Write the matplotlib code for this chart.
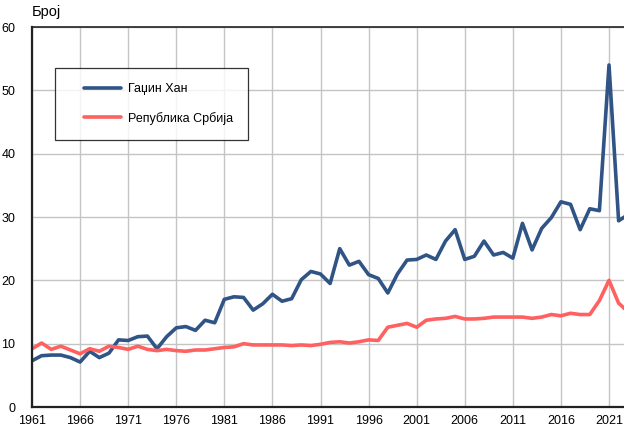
import matplotlib
matplotlib.use("Agg")
import matplotlib.pyplot as plt
from matplotlib.legend_handler import HandlerLine2D

years = list(range(1961, 2024))
gadzin_han = [7.3, 8.1, 8.2, 8.2, 7.8, 7.1, 8.8, 7.8, 8.5, 10.6,
              10.5, 11.1, 11.2, 9.2, 11.1, 12.5, 12.7, 12.1, 13.7, 13.3,
              17.0, 17.4, 17.3, 15.3, 16.3, 17.8, 16.7, 17.1, 20.1, 21.4,
              21.0, 19.5, 25.0, 22.4, 23.0, 20.9, 20.3, 18.0, 21.0, 23.2,
              23.3, 24.0, 23.3, 26.2, 28.0, 23.3, 23.8, 26.2, 24.0, 24.4,
              23.5, 29.0, 24.8, 28.2, 29.9, 32.4, 32.0, 28.0, 31.3, 31.0,
              54.0, 29.4, 30.4]
srbija = [9.2, 10.1, 9.1, 9.6, 9.0, 8.4, 9.2, 8.8, 9.6, 9.4,
          9.1, 9.6, 9.1, 8.9, 9.1, 8.9, 8.8, 9.0, 9.0, 9.2,
          9.4, 9.5, 10.0, 9.8, 9.8, 9.8, 9.8, 9.7, 9.8, 9.7,
          9.9, 10.2, 10.3, 10.1, 10.3, 10.6, 10.5, 12.6, 12.9, 13.2,
          12.6, 13.7, 13.9, 14.0, 14.3, 13.9, 13.9, 14.0, 14.2, 14.2,
          14.2, 14.2, 14.0, 14.2, 14.6, 14.4, 14.8, 14.6, 14.6, 16.8,
          20.0, 16.4, 15.0]
series_labels = ["Гаџин Хан", "Република Србија"]
x_ticks = list(range(1961, 2022, 5))
y_ticks = list(range(0, 61, 10))

plt.rcParams['font.family'] = ['Liberation Sans', 'DejaVu Sans']

W, H = 624, 430
fig = plt.figure(figsize=(W / 100, H / 100), dpi=100)
px_per_year = (609 - 32) / 60.0
x_end = 2024
ax_w = (x_end - 1961) * px_per_year
ax = fig.add_axes([32 / W, (H - 407) / H, ax_w / W, 380 / H])

l1, = ax.plot(years, gadzin_han, color="#2f5485", lw=2.6, label=series_labels[0],
              solid_joinstyle="round", solid_capstyle="round")
l2, = ax.plot(years, srbija, color="#ff6060", lw=2.6, label=series_labels[1],
              solid_joinstyle="round", solid_capstyle="round")

ax.set_xlim(1961, x_end)
ax.set_ylim(0, 60)
ax.set_xticks(x_ticks)
ax.set_yticks(y_ticks)
ax.tick_params(axis="both", length=0, labelsize=9, colors="black")
ax.tick_params(axis="x", pad=6)
ax.tick_params(axis="y", pad=12)
ax.grid(True, color="#c4c4c4", lw=1.0)
ax.set_axisbelow(True)
for s in ["left", "bottom"]:
    ax.spines[s].set_color("#222222")
    ax.spines[s].set_linewidth(1.6)
ax.spines["top"].set_color("#222222")
ax.spines["top"].set_linewidth(1.2)
ax.spines["right"].set_visible(False)

fig.text(32 / W, 1 - 12 / H, "Број", fontsize=10.5, ha="left", va="center")

hm = {l1: HandlerLine2D(xpad=1.1), l2: HandlerLine2D(xpad=1.1)}
leg = ax.legend(loc="upper left", bbox_to_anchor=((55 - 32) / ax_w, (407 - 68) / 380),
                frameon=True, fancybox=False, fontsize=9, handlelength=4.1,
                borderpad=1.2, labelspacing=1.35, handletextpad=0.55, borderaxespad=0,
                handler_map=hm)
leg.get_frame().set_edgecolor("black")
leg.get_frame().set_linewidth(0.9)

fig.savefig("out.png", dpi=100)
